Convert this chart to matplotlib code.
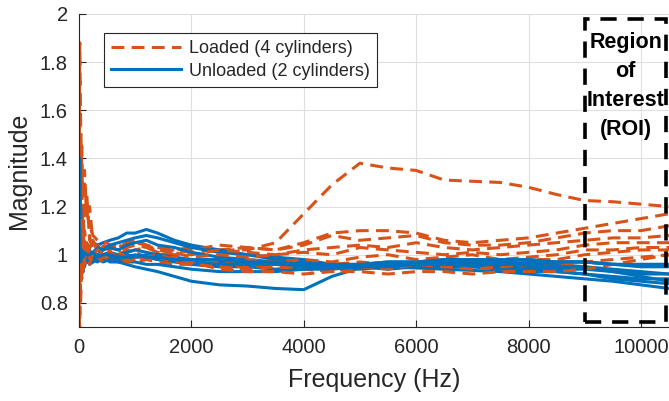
import numpy as np
import matplotlib.pyplot as plt
from matplotlib.patches import Rectangle
from matplotlib.ticker import FormatStrFormatter

plt.rcParams['font.family'] = ['Liberation Sans', 'DejaVu Sans']

# frequency samples (Hz)
freq = [0, 15, 30, 50, 75, 100, 140, 190, 250, 330, 430, 550, 700, 850, 1000, 1200,
        1400, 1700, 2000, 2500, 3000, 3500, 4000, 4500, 5000, 5500, 6000, 6500, 7000,
        7500, 8000, 8500, 9000, 9500, 10000, 10500]

# loaded case, 4 cylinders
loaded1 = [1.00, 1.88, 1.55, 1.35, 1.25, 1.30, 1.18, 1.12, 1.08, 1.06, 1.04, 1.03, 1.02, 1.03, 1.04, 1.03, 1.02, 1.02, 1.01, 1.02, 1.02, 1.05, 1.17, 1.29, 1.38, 1.36, 1.35, 1.31, 1.305, 1.30, 1.28, 1.25, 1.225, 1.22, 1.21, 1.20]
loaded2 = [0.95, 1.60, 1.30, 1.45, 1.20, 1.15, 1.25, 1.06, 1.04, 1.05, 1.03, 1.02, 1.04, 1.03, 1.05, 1.04, 1.03, 1.02, 1.03, 1.02, 1.03, 1.02, 1.05, 1.09, 1.10, 1.10, 1.09, 1.06, 1.05, 1.06, 1.07, 1.09, 1.11, 1.13, 1.15, 1.17]
loaded3 = [0.70, 1.40, 1.50, 1.20, 1.10, 1.35, 1.15, 1.20, 1.05, 1.03, 1.06, 1.04, 1.03, 1.05, 1.06, 1.04, 1.02, 1.01, 1.02, 1.04, 1.03, 1.02, 1.04, 1.08, 1.06, 1.07, 1.08, 1.05, 1.04, 1.04, 1.05, 1.07, 1.09, 1.10, 1.10, 1.12]
loaded4 = [0.75, 0.70, 1.20, 1.30, 1.05, 1.10, 1.02, 1.08, 1.00, 1.02, 1.01, 1.03, 1.02, 1.01, 1.02, 1.03, 1.01, 1.00, 1.00, 1.02, 1.01, 1.00, 1.02, 1.03, 1.04, 1.03, 1.05, 1.03, 1.02, 1.03, 1.04, 1.05, 1.06, 1.07, 1.07, 1.08]
loaded5 = [0.85, 1.25, 0.95, 1.10, 1.20, 1.00, 1.05, 1.02, 1.06, 1.01, 1.00, 1.01, 1.00, 1.02, 1.01, 0.99, 1.00, 1.01, 0.99, 1.00, 0.99, 1.00, 1.01, 1.00, 1.03, 1.02, 1.01, 1.00, 1.01, 1.00, 1.01, 1.02, 1.04, 1.05, 1.05, 1.05]
loaded6 = [0.90, 1.10, 0.80, 1.00, 0.95, 1.05, 0.98, 1.03, 1.00, 0.99, 1.02, 1.00, 0.99, 1.00, 0.99, 1.00, 0.98, 0.99, 0.98, 0.97, 0.98, 0.97, 0.98, 0.97, 0.99, 1.00, 0.98, 0.99, 1.00, 0.98, 0.99, 1.00, 1.02, 1.02, 1.03, 1.03]
loaded7 = [0.80, 1.50, 1.00, 0.90, 1.10, 0.97, 1.00, 0.98, 1.01, 1.00, 0.98, 0.99, 1.01, 0.99, 1.00, 0.98, 0.99, 0.97, 0.97, 0.96, 0.95, 0.96, 0.95, 0.96, 0.97, 0.96, 0.97, 0.97, 0.96, 0.97, 0.98, 0.98, 1.00, 1.01, 1.02, 1.02]
loaded8 = [0.95, 1.30, 1.15, 0.95, 1.00, 1.05, 0.95, 0.99, 0.97, 0.98, 0.99, 0.98, 0.97, 0.98, 0.97, 0.98, 0.97, 0.96, 0.96, 0.95, 0.94, 0.95, 0.94, 0.93, 0.95, 0.94, 0.96, 0.95, 0.94, 0.95, 0.96, 0.95, 0.97, 0.98, 0.99, 1.00]
loaded9 = [1.10, 0.75, 1.05, 1.15, 0.92, 0.98, 1.04, 0.96, 1.02, 0.99, 0.97, 1.01, 0.99, 0.97, 0.98, 0.99, 1.00, 0.98, 0.97, 0.94, 0.93, 0.93, 0.92, 0.93, 0.93, 0.92, 0.93, 0.93, 0.92, 0.93, 0.93, 0.93, 0.94, 0.96, 0.98, 1.00]

# unloaded case, 2 cylinders
unloaded1 = [1.15, 1.45, 1.00, 1.10, 0.95, 1.05, 1.00, 1.02, 0.99, 0.98, 0.99, 0.97, 0.97, 0.96, 0.95, 0.94, 0.93, 0.91, 0.89, 0.875, 0.87, 0.86, 0.855, 0.91, 0.945, 0.95, 0.945, 0.94, 0.935, 0.93, 0.92, 0.91, 0.90, 0.89, 0.875, 0.86]
unloaded2 = [1.00, 1.30, 1.15, 1.05, 1.10, 1.00, 1.04, 1.03, 1.05, 1.04, 1.05, 1.06, 1.07, 1.09, 1.09, 1.105, 1.09, 1.06, 1.04, 1.02, 1.00, 0.99, 0.98, 0.96, 0.96, 0.97, 0.97, 0.98, 0.98, 0.97, 0.97, 0.97, 0.97, 0.96, 0.95, 0.95]
unloaded3 = [1.05, 1.20, 0.92, 1.10, 1.00, 1.05, 1.02, 1.00, 1.01, 1.03, 1.02, 1.04, 1.05, 1.06, 1.07, 1.08, 1.07, 1.05, 1.03, 1.01, 1.00, 0.98, 0.97, 0.96, 0.95, 0.96, 0.96, 0.97, 0.97, 0.97, 0.98, 0.97, 0.97, 0.96, 0.96, 0.96]
unloaded4 = [0.95, 1.25, 1.10, 0.92, 1.02, 0.98, 1.01, 1.00, 0.99, 1.00, 1.02, 1.03, 1.02, 1.04, 1.05, 1.06, 1.04, 1.03, 1.01, 0.99, 0.98, 0.97, 0.96, 0.95, 0.95, 0.94, 0.95, 0.96, 0.96, 0.95, 0.95, 0.94, 0.94, 0.93, 0.92, 0.92]
unloaded5 = [1.10, 1.00, 1.20, 0.95, 1.00, 1.03, 0.99, 0.98, 1.00, 0.99, 1.00, 1.01, 1.00, 1.01, 1.02, 1.01, 1.00, 0.99, 0.98, 0.97, 0.97, 0.96, 0.96, 0.95, 0.94, 0.95, 0.95, 0.95, 0.95, 0.94, 0.93, 0.93, 0.92, 0.91, 0.90, 0.90]
unloaded6 = [1.20, 1.35, 0.95, 1.05, 0.93, 1.00, 0.97, 0.99, 0.98, 0.97, 0.99, 0.98, 0.99, 1.00, 0.99, 0.99, 0.98, 0.97, 0.96, 0.95, 0.95, 0.94, 0.95, 0.95, 0.96, 0.96, 0.96, 0.96, 0.95, 0.95, 0.94, 0.93, 0.92, 0.90, 0.89, 0.88]
unloaded7 = [0.90, 1.15, 1.00, 0.97, 1.05, 0.95, 0.99, 0.97, 0.98, 1.00, 0.98, 0.99, 0.98, 0.98, 0.99, 1.00, 0.99, 0.98, 0.97, 0.96, 0.96, 0.96, 0.95, 0.95, 0.95, 0.96, 0.96, 0.97, 0.97, 0.97, 0.96, 0.96, 0.95, 0.93, 0.91, 0.89]
unloaded8 = [1.00, 1.40, 1.05, 1.00, 0.97, 0.99, 0.98, 0.96, 0.97, 0.98, 0.97, 0.98, 0.97, 0.97, 0.97, 0.96, 0.96, 0.95, 0.94, 0.93, 0.93, 0.93, 0.94, 0.94, 0.95, 0.95, 0.96, 0.96, 0.96, 0.96, 0.96, 0.95, 0.95, 0.94, 0.93, 0.92]
unloaded9 = [1.15, 1.10, 0.97, 1.02, 0.99, 1.01, 1.00, 1.00, 1.01, 0.99, 1.00, 1.00, 0.99, 0.99, 1.00, 0.99, 0.99, 0.98, 0.98, 0.98, 0.97, 0.97, 0.96, 0.96, 0.96, 0.97, 0.97, 0.98, 0.98, 0.98, 0.98, 0.97, 0.97, 0.96, 0.96, 0.96]

loaded = [loaded1, loaded2, loaded3, loaded4, loaded5, loaded6, loaded7, loaded8, loaded9]
unloaded = [unloaded1, unloaded2, unloaded3, unloaded4, unloaded5, unloaded6, unloaded7, unloaded8, unloaded9]

# region of interest limits
roi_f = [9000, 10450]
roi_mag = [0.72, 1.98]

orange = '#D95319'
blue = '#0072BD'
axcol = '#262626'

fig = plt.figure(figsize=(6.69, 4.01), dpi=100)
ax = fig.add_axes([0.118, 0.1845, 0.882, 0.781])

for i in range(len(loaded)):
    l1, = ax.plot(freq, loaded[i], color=orange, lw=2.2, ls=(0, (4.2, 2.4)))
    l2, = ax.plot(freq, unloaded[i], color=blue, lw=2.2)

ax.set_xlim(0, 10500)
ax.set_ylim(0.7, 2)
ax.set_xticks(np.arange(0, 10001, 2000))
ax.set_yticks([0.8, 1.0, 1.2, 1.4, 1.6, 1.8, 2.0])
ax.yaxis.set_major_formatter(FormatStrFormatter('%g'))
ax.grid(True, color='#dfdfdf', lw=0.8)
ax.set_axisbelow(True)
for s in ['top', 'right']:
    ax.spines[s].set_visible(False)
for s in ['left', 'bottom']:
    ax.spines[s].set_color(axcol)
    ax.spines[s].set_linewidth(0.8)
ax.tick_params(direction='in', length=5, width=0.8, colors=axcol, labelsize=14.5, pad=8)
ax.set_xlabel('Frequency (Hz)', fontsize=18, color=axcol, labelpad=8)
ax.set_ylabel('Magnitude', fontsize=18, color=axcol, labelpad=6)

leg = ax.legend([l1, l2], ['Loaded (4 cylinders)', 'Unloaded (2 cylinders)'],
                loc='upper left', bbox_to_anchor=(0.042, 0.939), borderaxespad=0,
                fontsize=13, fancybox=False, framealpha=1, edgecolor=axcol,
                handlelength=3.9, borderpad=0.4, labelspacing=0.3, handletextpad=0.4)
leg.get_frame().set_linewidth(0.8)
for t in leg.get_texts():
    t.set_color(axcol)

ax.add_patch(Rectangle((roi_f[0], roi_mag[0]), roi_f[1] - roi_f[0], roi_mag[1] - roi_mag[0],
                       fill=False, ec='black', lw=2.6, ls=(0, (4.5, 3)), clip_on=False, zorder=5))
ax.text(9730, 1.925, 'Region\nof\nInterest\n(ROI)', ha='center', va='top', fontsize=15.5,
        fontweight='bold', linespacing=1.5, zorder=6)

fig.savefig('out.png', dpi=100)
